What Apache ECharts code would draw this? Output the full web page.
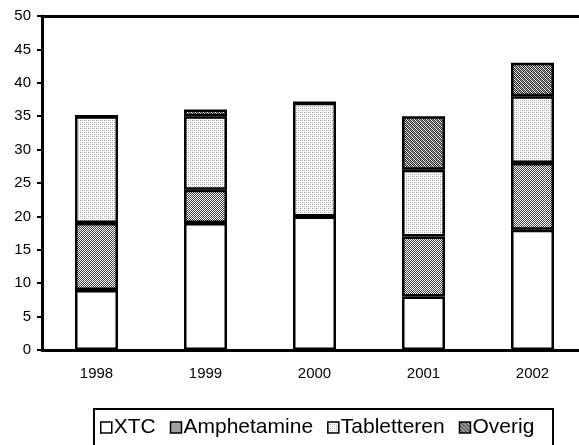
<!DOCTYPE html>
<html>
<head>
<meta charset="utf-8">
<script src="https://cdn.jsdelivr.net/npm/echarts@6/dist/echarts.min.js"></script>
<style>
  html, body { margin: 0; padding: 0; background: #fff; }
  #chart { width: 579px; height: 445px; }
</style>
</head>
<body>
<div id="chart"></div>
<script>
var years = ['1998', '1999', '2000', '2001', '2002'];
var xtc = [9, 19, 20, 8, 18];
var amphetamine = [10, 5, 0, 9, 10];
var tabletteren = [16, 11, 17, 10, 10];
var overig = [0, 1, 0, 8, 5];

// little canvas tiles for the hatched fills
function makeTile(draw) {
    var c = document.createElement('canvas');
    c.width = 4;
    c.height = 4;
    var ctx = c.getContext('2d');
    ctx.fillStyle = '#fff';
    ctx.fillRect(0, 0, 4, 4);
    draw(ctx);
    return c;
}
var hatchUp = makeTile(function (ctx) {
    ctx.fillStyle = '#444';
    for (var i = 0; i < 4; i++) {
        ctx.fillRect(3 - i, i, 1, 1);
        ctx.fillRect((5 - i) % 4, i, 1, 1);
    }
});
var hatchDown = makeTile(function (ctx) {
    ctx.fillStyle = '#333';
    for (var i = 0; i < 4; i++) {
        ctx.fillRect(i, i, 1, 1);
        ctx.fillRect((i + 2) % 4, i, 1, 1);
    }
    ctx.fillStyle = '#999';
    for (var j = 0; j < 4; j++) {
        ctx.fillRect((j + 1) % 4, j, 1, 1);
    }
});
var dots = makeTile(function (ctx) {
    ctx.fillStyle = '#999';
    ctx.fillRect(0, 0, 1, 1);
    ctx.fillRect(2, 2, 1, 1);
    ctx.fillStyle = '#c4c4c4';
    ctx.fillRect(2, 0, 1, 1);
    ctx.fillRect(0, 2, 1, 1);
});

var myChart = echarts.init(document.getElementById('chart'));

function barSeries(name, data, fill) {
    return {
        name: name,
        type: 'bar',
        stack: 'total',
        barWidth: 43,
        data: data,
        itemStyle: {
            color: fill,
            borderColor: '#000',
            borderWidth: 2.5
        }
    };
}

var option = {
    animation: false,
    textStyle: { fontFamily: 'Liberation Sans, Arial, sans-serif', color: '#000' },
    grid: { left: 42, width: 545, top: 16, bottom: 95, outerBoundsMode: 'none' },
    // legend frame runs off the bottom of the picture
    graphic: [{
        type: 'rect',
        shape: { x: 94, y: 409, width: 459, height: 60 },
        style: { fill: 'none', stroke: '#000', lineWidth: 2 }
    }],
    legend: {
        left: 100,
        top: 417,
        padding: 0,
        itemGap: 14,
        itemWidth: 11,
        itemHeight: 11,
        icon: 'rect',
        itemStyle: { borderColor: '#000', borderWidth: 1.5 },
        textStyle: { fontSize: 21, color: '#000', padding: [0, 0, 0, -3] },
        data: ['XTC', 'Amphetamine', 'Tabletteren', 'Overig']
    },
    xAxis: [{
        type: 'category',
        data: years,
        axisLine: { lineStyle: { color: '#000', width: 3 } },
        axisTick: { length: 6, lineStyle: { color: '#000', width: 2 } },
        axisLabel: { fontSize: 15, color: '#000', margin: 16 }
    }, {
        type: 'category',
        position: 'top',
        data: years,
        axisLine: { lineStyle: { color: '#000', width: 3 } },
        axisTick: { show: false },
        axisLabel: { show: false }
    }],
    yAxis: {
        type: 'value',
        min: 0,
        max: 50,
        interval: 5,
        axisLine: { show: true, lineStyle: { color: '#000', width: 3 } },
        axisTick: { show: true, length: 5, lineStyle: { color: '#000', width: 2 } },
        axisLabel: { fontSize: 15, color: '#000', margin: 11 },
        splitLine: { show: false }
    },
    series: [
        barSeries('XTC', xtc, '#fff'),
        barSeries('Amphetamine', amphetamine, { image: hatchUp, repeat: 'repeat' }),
        barSeries('Tabletteren', tabletteren, { image: dots, repeat: 'repeat' }),
        barSeries('Overig', overig, { image: hatchDown, repeat: 'repeat' })
    ]
};

myChart.setOption(option);
</script>
</body>
</html>
